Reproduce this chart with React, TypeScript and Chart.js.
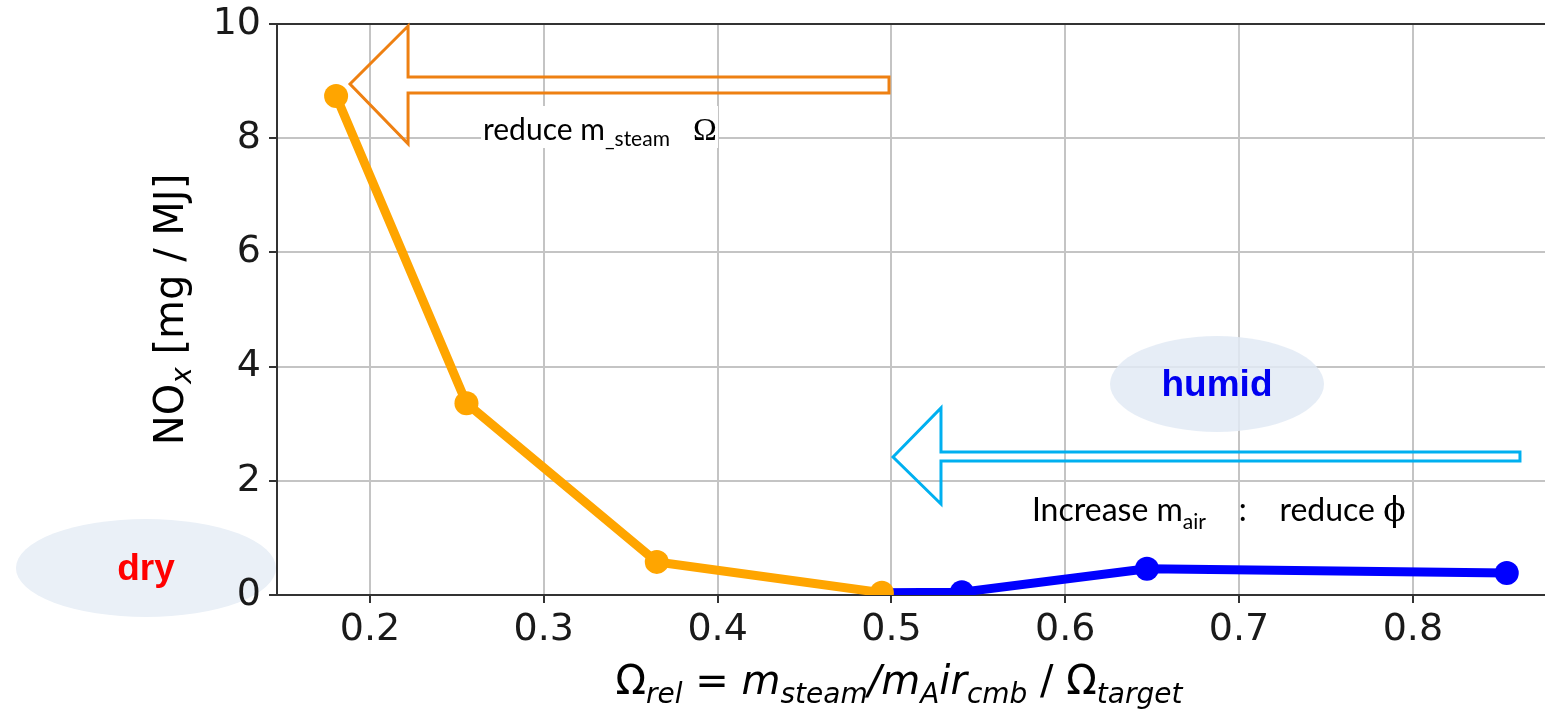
import React, { useEffect, useRef } from "react";
import { Chart, registerables } from "chart.js";

Chart.register(...registerables);

// ---- data ----
const steamOmega = [0.1805, 0.2555, 0.365, 0.4945];
const steamNOx = [8.74, 3.36, 0.58, 0.04];
const airOmega = [0.4945, 0.5405, 0.647, 0.854];
const airNOx = [0.04, 0.05, 0.46, 0.385];
const xTickValues = [0.2, 0.3, 0.4, 0.5, 0.6, 0.7, 0.8];
const yTickValues = [0, 2, 4, 6, 8, 10];
const xRange = [0.1465, 0.876];
const yRange = [0, 10];

// ---- annotation geometry in data units ----
const steamArrow = { tipX: 0.1885, tipY: 8.95, headX: 0.2219, headTop: 9.965, headBot: 7.9, shaftTop: 9.072, shaftBot: 8.792, tailX: 0.4986 };
const airArrow = { tipX: 0.5009, tipY: 2.417, headX: 0.5285, headTop: 3.275, headBot: 1.594, shaftTop: 2.504, shaftBot: 2.347, tailX: 0.8616 };
const humidBlob = { cx: 0.6873, cy: 3.695, rx: 0.06155, ry: 0.84 };
const dryBlob = { cx: 0.0711, cy: 0.473, rx: 0.0748, ry: 0.858 };
const steamNote = { x: 0.2639, x2: 0.4002, yTop: 8.564, yBot: 7.828, textX: 0.265, textY: 7.968 };
const airNote = { x: 0.5808, y: 1.296 };

type Run = { t: string; font: string; dy?: number; color?: string };

function drawRuns(ctx: CanvasRenderingContext2D, runs: Run[], x: number, y: number, align: "left" | "center") {
  ctx.save();
  ctx.textAlign = "left";
  ctx.textBaseline = "alphabetic";
  let w = 0;
  for (const r of runs) {
    ctx.font = r.font;
    w += ctx.measureText(r.t).width;
  }
  let cx = align === "center" ? x - w / 2 : x;
  for (const r of runs) {
    ctx.font = r.font;
    ctx.fillStyle = r.color || "#000";
    ctx.fillText(r.t, cx, y + (r.dy || 0));
    cx += ctx.measureText(r.t).width;
  }
  ctx.restore();
}

function drawEllipse(chart: any, b: any, fill: string) {
  const { x, y } = chart.scales;
  const ctx = chart.ctx as CanvasRenderingContext2D;
  const cx = x.getPixelForValue(b.cx);
  const cy = y.getPixelForValue(b.cy);
  const rx = Math.abs(x.getPixelForValue(b.cx + b.rx) - cx);
  const ry = Math.abs(y.getPixelForValue(b.cy + b.ry) - cy);
  ctx.save();
  ctx.beginPath();
  ctx.ellipse(cx, cy, rx, ry, 0, 0, Math.PI * 2);
  ctx.fillStyle = fill;
  ctx.fill();
  ctx.restore();
  return { cx, cy };
}

function drawArrow(chart: any, a: any, color: string) {
  const { x, y } = chart.scales;
  const ctx = chart.ctx as CanvasRenderingContext2D;
  const px = (v: number) => x.getPixelForValue(v);
  const py = (v: number) => y.getPixelForValue(v);
  ctx.save();
  ctx.beginPath();
  ctx.moveTo(px(a.tipX), py(a.tipY));
  ctx.lineTo(px(a.headX), py(a.headTop));
  ctx.lineTo(px(a.headX), py(a.shaftTop));
  ctx.lineTo(px(a.tailX), py(a.shaftTop));
  ctx.lineTo(px(a.tailX), py(a.shaftBot));
  ctx.lineTo(px(a.headX), py(a.shaftBot));
  ctx.lineTo(px(a.headX), py(a.headBot));
  ctx.closePath();
  ctx.strokeStyle = color;
  ctx.lineWidth = 3;
  ctx.lineJoin = "miter";
  ctx.stroke();
  ctx.restore();
}

const MATH = '"DejaVu Sans"';
const CAL = "Lato";

const annotationPlugin = {
  id: "annotations",
  beforeDraw(chart: any) {
    const ctx = chart.ctx as CanvasRenderingContext2D;
    const c = drawEllipse(chart, dryBlob, "#EAF0F7");
    ctx.save();
    ctx.font = `bold 37px "Liberation Sans"`;
    ctx.fillStyle = "#FF0000";
    ctx.textAlign = "center";
    ctx.textBaseline = "middle";
    ctx.fillText("dry", c.cx, c.cy + 2);
    ctx.restore();
  },
  beforeDatasetsDraw(chart: any) {
    const ctx = chart.ctx as CanvasRenderingContext2D;
    const a = chart.chartArea;
    ctx.save();
    ctx.strokeStyle = "#333";
    ctx.lineWidth = 2;
    ctx.beginPath();
    ctx.moveTo(a.left, a.top);
    ctx.lineTo(a.right, a.top);
    ctx.stroke();
    ctx.restore();
    drawEllipse(chart, humidBlob, "rgba(226,234,244,0.85)");
  },
  afterDatasetsDraw(chart: any) {
    const ctx = chart.ctx as CanvasRenderingContext2D;
    const { x, y } = chart.scales;
    const a = chart.chartArea;

    // humid label
    const hx = x.getPixelForValue(humidBlob.cx);
    const hy = y.getPixelForValue(humidBlob.cy);
    ctx.save();
    ctx.font = `bold 37px "Liberation Sans"`;
    ctx.fillStyle = "#0000F0";
    ctx.textAlign = "center";
    ctx.textBaseline = "middle";
    ctx.fillText("humid", hx, hy + 2);
    ctx.restore();

    drawArrow(chart, steamArrow, "#EE8012");
    drawArrow(chart, airArrow, "#00B0F0");

    // white box + steam note
    const bx1 = x.getPixelForValue(steamNote.x);
    const bx2 = x.getPixelForValue(steamNote.x2);
    const by1 = y.getPixelForValue(steamNote.yTop);
    const by2 = y.getPixelForValue(steamNote.yBot);
    ctx.save();
    ctx.fillStyle = "#fff";
    ctx.fillRect(bx1, by1, bx2 - bx1, by2 - by1);
    ctx.restore();
    drawRuns(
      ctx,
      [
        { t: "reduce m", font: `30px ${CAL}` },
        { t: "_steam", font: `21px ${CAL}`, dy: 6 },
        { t: "   ", font: `30px ${CAL}` },
        { t: "Ω", font: `32px "Liberation Serif"` },
      ],
      x.getPixelForValue(steamNote.textX),
      y.getPixelForValue(steamNote.textY),
      "left"
    );

    drawRuns(
      ctx,
      [
        { t: "Increase m", font: `32px ${CAL}` },
        { t: "air", font: `21px ${CAL}`, dy: 8 },
        { t: "    :    reduce ", font: `32px ${CAL}` },
        { t: "ϕ", font: `33px "DejaVu Serif"` },
      ],
      x.getPixelForValue(airNote.x),
      y.getPixelForValue(airNote.y),
      "left"
    );

    // x axis title
    const big = `40px ${MATH}`;
    const bigI = `italic 40px ${MATH}`;
    const subI = `italic 28px ${MATH}`;
    drawRuns(
      ctx,
      [
        { t: "Ω", font: big },
        { t: "rel", font: subI, dy: 9 },
        { t: " = ", font: big },
        { t: "m", font: bigI },
        { t: "steam", font: subI, dy: 9 },
        { t: "/m", font: bigI },
        { t: "A", font: subI, dy: 9 },
        { t: "ir", font: bigI },
        { t: "cmb", font: subI, dy: 9 },
        { t: " / Ω", font: big },
        { t: "target", font: subI, dy: 9 },
      ],
      (a.left + a.right) / 2 - 12,
      a.bottom + 99,
      "center"
    );

    // y axis title
    ctx.save();
    ctx.translate(183, (a.top + a.bottom) / 2);
    ctx.rotate(-Math.PI / 2);
    drawRuns(
      ctx,
      [
        { t: "NO", font: big },
        { t: "x", font: subI, dy: 8 },
        { t: " [mg / MJ]", font: big },
      ],
      0,
      0,
      "center"
    );
    ctx.restore();
  },
};

function zeroPadding(s: any) {
  s.paddingTop = 0;
  s.paddingBottom = 0;
  s.paddingLeft = 0;
  s.paddingRight = 0;
}

export default function App() {
  const ref = useRef<HTMLCanvasElement | null>(null);

  useEffect(() => {
    if (!ref.current) return;
    const tickFont = { family: MATH, size: 38 };
    const chart = new Chart(ref.current, {
      type: "line",
      data: {
        datasets: [
          {
            data: steamOmega.map((v, i) => ({ x: v, y: steamNOx[i] })),
            borderColor: "#FFA500",
            backgroundColor: "#FFA500",
            borderWidth: 9,
            pointRadius: 12,
            pointHoverRadius: 12,
            pointBorderWidth: 0,
            tension: 0,
            clip: 0,
          },
          {
            data: airOmega.map((v, i) => ({ x: v, y: airNOx[i] })),
            borderColor: "#0000FF",
            backgroundColor: "#0000FF",
            borderWidth: 9,
            pointRadius: [0, 12, 12, 12],
            pointHoverRadius: 12,
            pointBorderWidth: 0,
            tension: 0,
            clip: 0,
          },
        ],
      },
      options: {
        animation: false,
        responsive: false,
        devicePixelRatio: 1,
        layout: { autoPadding: false, padding: { top: 24, right: 0, left: 0, bottom: 0 } },
        plugins: { legend: { display: false }, tooltip: { enabled: false } },
        events: [],
        scales: {
          x: {
            type: "linear",
            min: xRange[0],
            max: xRange[1],
            afterBuildTicks: (s: any) => {
              s.ticks = xTickValues.map((v) => ({ value: v }));
            },
            afterFit: (s: any) => {
              s.height = 115;
              zeroPadding(s);
            },
            ticks: {
              font: tickFont,
              color: "#1a1a1a",
              padding: 4,
              maxRotation: 0,
              callback: (v: any) => Number(v).toFixed(1),
            },
            grid: { color: "#c4c4c4", lineWidth: 2, tickColor: "#333", tickLength: 8, tickWidth: 2 },
            border: { display: true, color: "#333", width: 2 },
          },
          y: {
            type: "linear",
            min: yRange[0],
            max: yRange[1],
            afterBuildTicks: (s: any) => {
              s.ticks = yTickValues.map((v) => ({ value: v }));
            },
            afterFit: (s: any) => {
              s.width = 277;
              zeroPadding(s);
            },
            ticks: {
              font: tickFont,
              color: "#1a1a1a",
              padding: 8,
              callback: (v: any) => String(v),
            },
            grid: { color: "#c4c4c4", lineWidth: 2, tickColor: "#333", tickLength: 8, tickWidth: 2 },
            border: { display: true, color: "#333", width: 2 },
          },
        },
      },
      plugins: [annotationPlugin],
    } as any);
    return () => chart.destroy();
  }, []);

  return (
    <div style={{ position: "fixed", left: 0, top: 0, width: 1545, height: 710, background: "#fff" }}>
      <canvas ref={ref} width={1545} height={710} style={{ display: "block" }} />
    </div>
  );
}
